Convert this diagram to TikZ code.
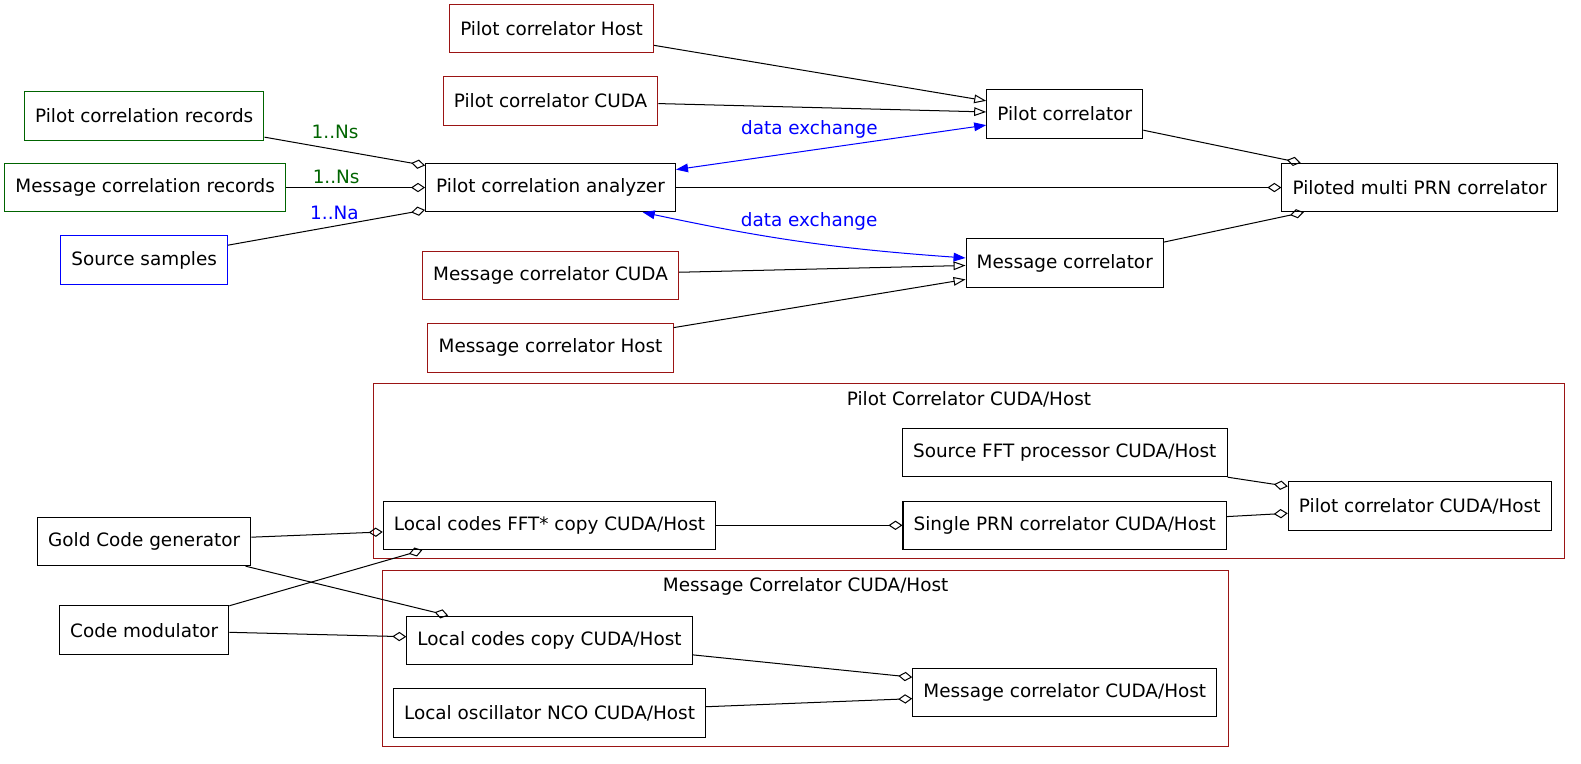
\documentclass[tikz,border=0pt]{standalone}
\usepackage{fontspec}
\setmainfont{DejaVu Sans}
\usetikzlibrary{arrows.meta}

\definecolor{clred}{RGB}{155,20,20}
\definecolor{clgreen}{RGB}{0,100,0}

\begin{document}
\begin{tikzpicture}[x=0.756pt,y=-0.756pt,
    font=\fontsize{13.8}{16}\selectfont,
    every path/.style={line width=0.756pt},
    box/.style={draw,rectangle,minimum height=36.3pt,inner xsep=8pt},
    redbox/.style={box,draw=clred},
    greenbox/.style={box,draw=clgreen},
    bluebox/.style={box,draw=blue},
    agg/.style={-{Diamond[open,length=10.5pt,width=7pt]}},
    inh/.style={-{Triangle[open,length=9pt,width=6.5pt]}},
    xchg/.style={blue,{Triangle[length=9pt,width=6.5pt]}-{Triangle[length=9pt,width=6.5pt]}},
    lbl/.style={inner sep=1pt},
    cluster/.style={draw=clred}]
  \useasboundingbox (0,0) rectangle (1568,757);

  % top part
  \node[redbox] (pch) at (547,28) {Pilot correlator Host};
  \node[redbox] (pcc) at (546,100) {Pilot correlator CUDA};
  \node[greenbox] (pcrec) at (143,115) {Pilot correlation records};
  \node[greenbox] (mcrec) at (144,186) {Message correlation records};
  \node[bluebox] (src) at (143,258) {Source samples};
  \node[box] (pca) at (546,186) {Pilot correlation analyzer};
  \node[box] (pc) at (1056,113) {Pilot correlator};
  \node[box] (pmp) at (1408,186) {Piloted multi PRN correlator};
  \node[box] (mc) at (1056,261) {Message correlator};
  \node[redbox] (mcc) at (546,273) {Message correlator CUDA};
  \node[redbox] (mch) at (546,345) {Message correlator Host};

  \draw[inh] (pch) -- (pc);
  \draw[inh] (pcc) -- (pc);
  \draw[inh] (mcc) -- (mc);
  \draw[inh] (mch) -- (mc);
  \draw[agg] (pcrec) -- (pca) node[lbl,pos=0.44,above=6.6pt,text=clgreen] (ns1) {1..Ns};
  \draw[agg] (mcrec) -- (pca) node[lbl,pos=0.36,above=1.8pt,text=clgreen] (ns2) {1..Ns};
  \draw[agg] (src) -- (pca) node[lbl,pos=0.54,above=3.3pt,text=blue] (na) {1..Na};
  \draw[agg] (pca) -- (pmp);
  \draw[agg] (pc) -- (pmp);
  \draw[agg] (mc) -- (pmp);
  \draw[xchg] (pca) -- (pc) node[lbl,pos=0.43,above=8pt] (dx1) {data exchange};
  \draw[xchg] (pca.-15) to[bend right=4] node[lbl,pos=0.52,above=8pt] (dx2) {data exchange} (mc.177);

  % clusters
  \draw[cluster] (370,380) rectangle (1552,554);
  \node (pclus) at (961,396) {Pilot Correlator CUDA/Host};
  \draw[cluster] (379,566) rectangle (1218,740);
  \node (mclus) at (799,582) {Message Correlator CUDA/Host};

  \node[box] (sfft) at (1056,449) {Source FFT processor CUDA/Host};
  \node[box] (pcch) at (1408,502) {Pilot correlator CUDA/Host};
  \node[box] (lfft) at (545,521) {Local codes FFT* copy CUDA/Host};
  \node[box] (sprn) at (1056,521) {Single PRN correlator CUDA/Host};
  \node[box] (gold) at (143,537) {Gold Code generator};
  \node[box] (cmod) at (143,625) {Code modulator};
  \node[box] (lcc) at (545,635) {Local codes copy CUDA/Host};
  \node[box] (lnco) at (545,707) {Local oscillator NCO CUDA/Host};
  \node[box] (mcch) at (1056,687) {Message correlator CUDA/Host};

  \draw[agg] (sfft) -- (pcch);
  \draw[agg] (sprn) -- (pcch);
  \draw[agg] (lfft) -- (sprn);
  \draw[agg] (gold) -- (lfft);
  \draw[agg] (gold) -- (lcc);
  \draw[agg] (cmod.16) -- (lfft.191);
  \draw[agg] (cmod) -- (lcc);
  \draw[agg] (lcc) -- (mcch);
  \draw[agg] (lnco) -- (mcch);
\end{tikzpicture}
\end{document}
